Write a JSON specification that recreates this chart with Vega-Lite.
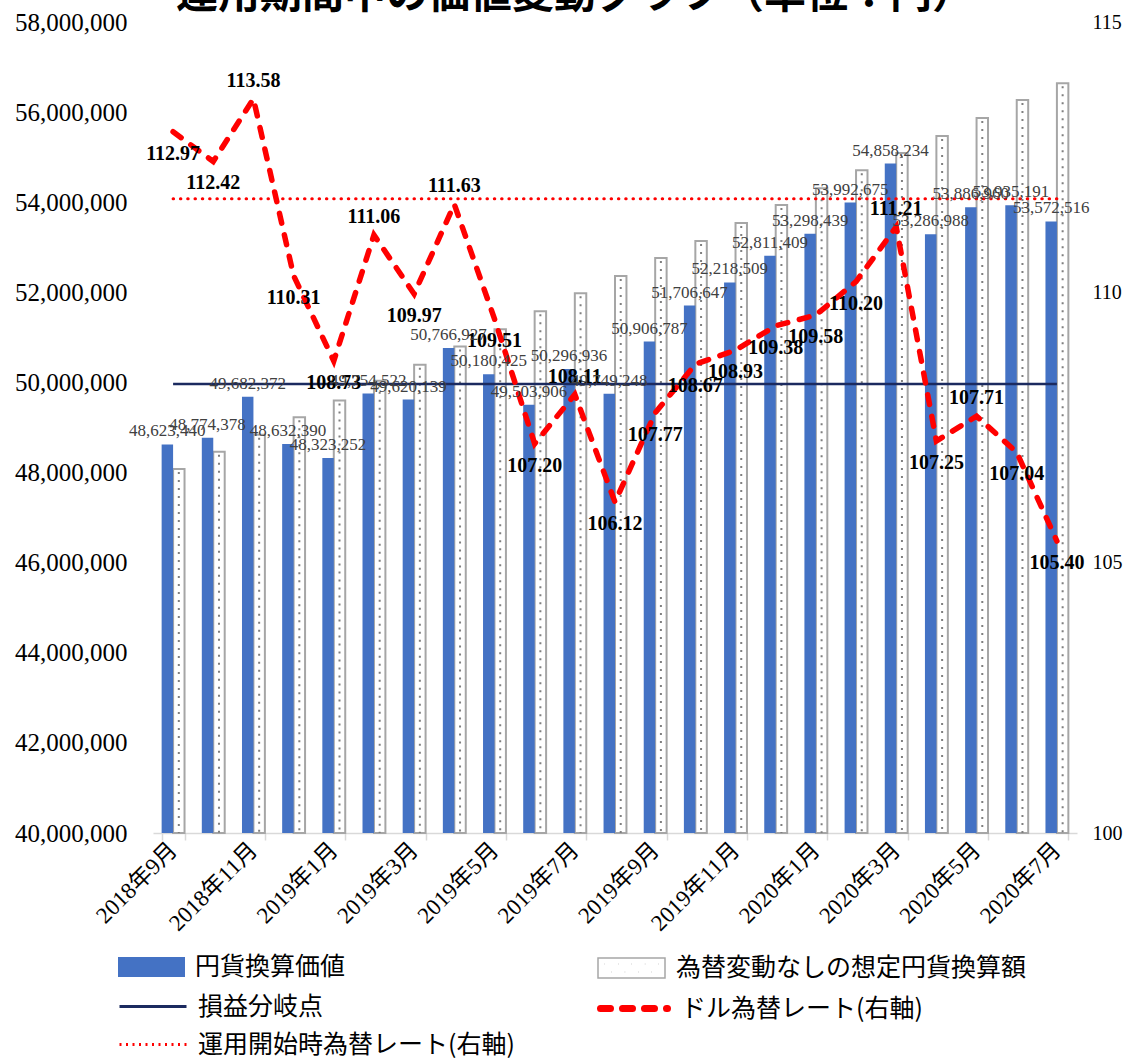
{
  "$schema": "https://vega.github.io/schema/vega-lite/v6.json",
  "width": 924,
  "height": 811,
  "autosize": "none",
  "padding": {"left": 153, "top": 22, "right": 54, "bottom": 225},
  "background": "white",
  "title": {
    "text": "運用期間中の価値変動グラフ（単位：円）",
    "font": "Noto Sans CJK JP",
    "fontSize": 42,
    "fontWeight": "bold",
    "color": "#000000",
    "anchor": "middle",
    "frame": "group",
    "dx": -40,
    "dy": 40,
    "offset": 0,
    "baseline": "alphabetic"
  },
  "config": {
    "view": {"stroke": null},
    "legend": {
      "orient": "none",
      "padding": 0,
      "title": null,
      "labelFont": "Noto Sans CJK JP",
      "labelFontSize": 25,
      "labelColor": "#000000",
      "labelOffset": 10,
      "labelLimit": 600,
      "symbolSize": 4489
    }
  },
  "data": {
    "values": [
      {"month": "2018年9月", "value": 48623440, "noFx": 48080000, "rate": 112.97, "breakeven": 49965000, "startRate": 111.73},
      {"month": "2018年10月", "value": 48774378, "noFx": 48460000, "rate": 112.42, "breakeven": 49965000, "startRate": 111.73},
      {"month": "2018年11月", "value": 49682372, "noFx": 48840000, "rate": 113.58, "breakeven": 49965000, "startRate": 111.73},
      {"month": "2018年12月", "value": 48632390, "noFx": 49230000, "rate": 110.31, "breakeven": 49965000, "startRate": 111.73},
      {"month": "2019年1月", "value": 48323252, "noFx": 49600000, "rate": 108.73, "breakeven": 49965000, "startRate": 111.73},
      {"month": "2019年2月", "value": 49754522, "noFx": 50040000, "rate": 111.06, "breakeven": 49965000, "startRate": 111.73},
      {"month": "2019年3月", "value": 49620139, "noFx": 50390000, "rate": 109.97, "breakeven": 49965000, "startRate": 111.73},
      {"month": "2019年4月", "value": 50766927, "noFx": 50800000, "rate": 111.63, "breakeven": 49965000, "startRate": 111.73},
      {"month": "2019年5月", "value": 50180425, "noFx": 51180000, "rate": 109.51, "breakeven": 49965000, "startRate": 111.73},
      {"month": "2019年6月", "value": 49503906, "noFx": 51580000, "rate": 107.20, "breakeven": 49965000, "startRate": 111.73},
      {"month": "2019年7月", "value": 50296936, "noFx": 51980000, "rate": 108.11, "breakeven": 49965000, "startRate": 111.73},
      {"month": "2019年8月", "value": 49749248, "noFx": 52360000, "rate": 106.12, "breakeven": 49965000, "startRate": 111.73},
      {"month": "2019年9月", "value": 50906787, "noFx": 52760000, "rate": 107.77, "breakeven": 49965000, "startRate": 111.73},
      {"month": "2019年10月", "value": 51706647, "noFx": 53140000, "rate": 108.67, "breakeven": 49965000, "startRate": 111.73},
      {"month": "2019年11月", "value": 52218509, "noFx": 53540000, "rate": 108.93, "breakeven": 49965000, "startRate": 111.73},
      {"month": "2019年12月", "value": 52811409, "noFx": 53940000, "rate": 109.38, "breakeven": 49965000, "startRate": 111.73},
      {"month": "2020年1月", "value": 53298439, "noFx": 54310000, "rate": 109.58, "breakeven": 49965000, "startRate": 111.73},
      {"month": "2020年2月", "value": 53992675, "noFx": 54710000, "rate": 110.20, "breakeven": 49965000, "startRate": 111.73},
      {"month": "2020年3月", "value": 54858234, "noFx": 55090000, "rate": 111.21, "breakeven": 49965000, "startRate": 111.73},
      {"month": "2020年4月", "value": 53286988, "noFx": 55470000, "rate": 107.25, "breakeven": 49965000, "startRate": 111.73},
      {"month": "2020年5月", "value": 53886960, "noFx": 55870000, "rate": 107.71, "breakeven": 49965000, "startRate": 111.73},
      {"month": "2020年6月", "value": 53935191, "noFx": 56270000, "rate": 107.04, "breakeven": 49965000, "startRate": 111.73},
      {"month": "2020年7月", "value": 53572516, "noFx": 56640000, "rate": 105.40, "breakeven": 49965000, "startRate": 111.73}
    ]
  },
  "encoding": {
    "x": {
      "field": "month",
      "type": "ordinal",
      "sort": null,
      "scale": {"paddingInner": 0.43, "paddingOuter": 0.215},
      "axis": {
        "title": null,
        "values": ["2018年9月", "2018年11月", "2019年1月", "2019年3月", "2019年5月", "2019年7月", "2019年9月", "2019年11月", "2020年1月", "2020年3月", "2020年5月", "2020年7月"],
        "tickBand": "extent",
        "labelAngle": -45,
        "labelAlign": "right",
        "labelBaseline": "middle",
        "labelPadding": 6,
        "labelFont": "Liberation Serif, Noto Sans CJK JP",
        "labelFontSize": 23,
        "labelColor": "#000000",
        "domainColor": "#D9D9D9",
        "domainWidth": 1.5,
        "tickColor": "#D9D9D9",
        "tickWidth": 1.5,
        "tickSize": 7,
        "grid": false
      }
    }
  },
  "layer": [
    {
      "layer": [
        {
          "mark": {"type": "bar", "fill": "white", "strokeWidth": 2},
          "encoding": {
            "xOffset": {"datum": "dot", "scale": {"domain": ["blue", "dot"]}},
            "y": {
              "field": "noFx",
              "type": "quantitative",
              "scale": {"domain": [40000000, 58000000], "zero": false, "nice": false},
              "axis": {
                "orient": "left",
                "title": null,
                "values": [40000000, 42000000, 44000000, 46000000, 48000000, 50000000, 52000000, 54000000, 56000000, 58000000],
                "format": ",d",
                "domain": false,
                "ticks": false,
                "grid": false,
                "labelFont": "Liberation Serif",
                "labelFontSize": 25,
                "labelColor": "#000000",
                "labelPadding": 26,
                "labelFlush": false,
                "labelOverlap": false
              }
            },
            "y2": {"datum": 40000000},
            "stroke": {
              "datum": "為替変動なしの想定円貨換算額",
              "scale": {"range": ["#A6A6A6"]},
              "legend": {
                "legendX": 444,
                "legendY": 911.5,
                "symbolType": "M-1,-0.3H1V0.3H-1Z M-0.8,-0.12h0.01 M-0.4,-0.12h0.01 M0,-0.12h0.01 M0.4,-0.12h0.01 M0.8,-0.12h0.01 M-0.6,0.12h0.01 M-0.2,0.12h0.01 M0.2,0.12h0.01 M0.6,0.12h0.01",
                "symbolStrokeWidth": 1.5,
                "encode": {"symbols": {"update": {"fill": {"value": "white"}, "stroke": {"value": "#A6A6A6"}}}}
              }
            }
          }
        },
        {
          "mark": {"type": "rule", "color": "#7F7F7F", "strokeWidth": 2, "strokeDash": [2, 6], "strokeDashOffset": -3},
          "encoding": {
            "xOffset": {"datum": "dot"},
            "y": {"field": "noFx", "type": "quantitative"},
            "y2": {"datum": 40000000}
          }
        },
        {
          "mark": {"type": "bar"},
          "encoding": {
            "xOffset": {"datum": "blue"},
            "y": {"field": "value", "type": "quantitative"},
            "y2": {"datum": 40000000},
            "fill": {
              "datum": "円貨換算価値",
              "scale": {"range": ["#4472C4"]},
              "legend": {
                "legendX": -35,
                "legendY": 911.5,
                "symbolType": "M-1,-0.3H1V0.3H-1Z",
                "symbolStrokeWidth": 0
              }
            }
          }
        },
        {
          "mark": {"type": "line", "strokeWidth": 2.5},
          "encoding": {
            "y": {"field": "breakeven", "type": "quantitative"},
            "stroke": {
              "datum": "損益分岐点",
              "scale": {"range": ["#1B2A5F"]},
              "legend": {
                "legendX": -35,
                "legendY": 949.5,
                "symbolType": "stroke",
                "symbolStrokeWidth": 3
              }
            }
          }
        }
      ],
      "resolve": {"scale": {"fill": "independent", "stroke": "independent"}}
    },
    {
      "layer": [
        {
          "mark": {"type": "line", "strokeWidth": 3, "strokeDash": [0.5, 6.8], "strokeCap": "round"},
          "encoding": {
            "y": {
              "field": "startRate",
              "type": "quantitative",
              "scale": {"domain": [100, 115], "zero": false, "nice": false},
              "axis": {
                "orient": "right",
                "title": null,
                "values": [100, 105, 110, 115],
                "format": "d",
                "domain": false,
                "ticks": false,
                "grid": false,
                "labelFont": "Liberation Serif",
                "labelFontSize": 20,
                "labelColor": "#000000",
                "labelPadding": 15,
                "labelFlush": false,
                "labelOverlap": false
              }
            },
            "stroke": {
              "datum": "運用開始時為替レート(右軸)",
              "scale": {"range": ["#FF0000"]},
              "legend": {
                "legendX": -35,
                "legendY": 987.5,
                "symbolType": "stroke",
                "symbolStrokeWidth": 3,
                "symbolDash": [2, 4.5]
              }
            }
          }
        },
        {
          "mark": {"type": "line", "strokeWidth": 5.5, "strokeDash": [10, 12], "strokeCap": "round"},
          "encoding": {
            "y": {"field": "rate", "type": "quantitative"},
            "stroke": {
              "datum": "ドル為替レート(右軸)",
              "scale": {"range": ["#FF0000"]},
              "legend": {
                "legendX": 444,
                "legendY": 949.5,
                "symbolType": "stroke",
                "symbolStrokeWidth": 7,
                "symbolDash": [10, 12],
                "encode": {"symbols": {"update": {"strokeCap": {"value": "round"}}}}
              }
            }
          }
        },
        {
          "transform": [
            {"window": [{"op": "lag", "field": "rate", "as": "prev"}, {"op": "lead", "field": "rate", "as": "next"}]},
            {"filter": "datum.prev != null && datum.next != null && datum.rate > datum.prev && datum.rate > datum.next"}
          ],
          "mark": {"type": "text", "font": "Liberation Serif", "fontWeight": "bold", "fontSize": 20, "color": "#000000", "baseline": "middle", "dy": -18},
          "encoding": {
            "y": {"field": "rate", "type": "quantitative"},
            "text": {"field": "rate", "type": "quantitative", "format": ".2f"}
          }
        },
        {
          "transform": [
            {"window": [{"op": "lag", "field": "rate", "as": "prev"}, {"op": "lead", "field": "rate", "as": "next"}]},
            {"filter": "!(datum.prev != null && datum.next != null && datum.rate > datum.prev && datum.rate > datum.next)"}
          ],
          "mark": {"type": "text", "font": "Liberation Serif", "fontWeight": "bold", "fontSize": 20, "color": "#000000", "baseline": "middle", "dy": 22},
          "encoding": {
            "y": {"field": "rate", "type": "quantitative"},
            "text": {"field": "rate", "type": "quantitative", "format": ".2f"}
          }
        }
      ],
      "resolve": {"scale": {"stroke": "independent"}}
    },
    {
      "layer": [
        {
          "mark": {"type": "text", "font": "Liberation Serif", "fontSize": 17, "color": "#404040", "baseline": "middle", "dy": -13},
          "encoding": {
            "xOffset": {"datum": "blue"},
            "y": {
              "field": "value",
              "type": "quantitative",
              "scale": {"domain": [40000000, 58000000], "zero": false, "nice": false},
              "axis": null
            },
            "text": {"field": "value", "type": "quantitative", "format": ",d"}
          }
        }
      ]
    }
  ],
  "resolve": {"scale": {"y": "independent", "fill": "independent", "stroke": "independent"}}
}
